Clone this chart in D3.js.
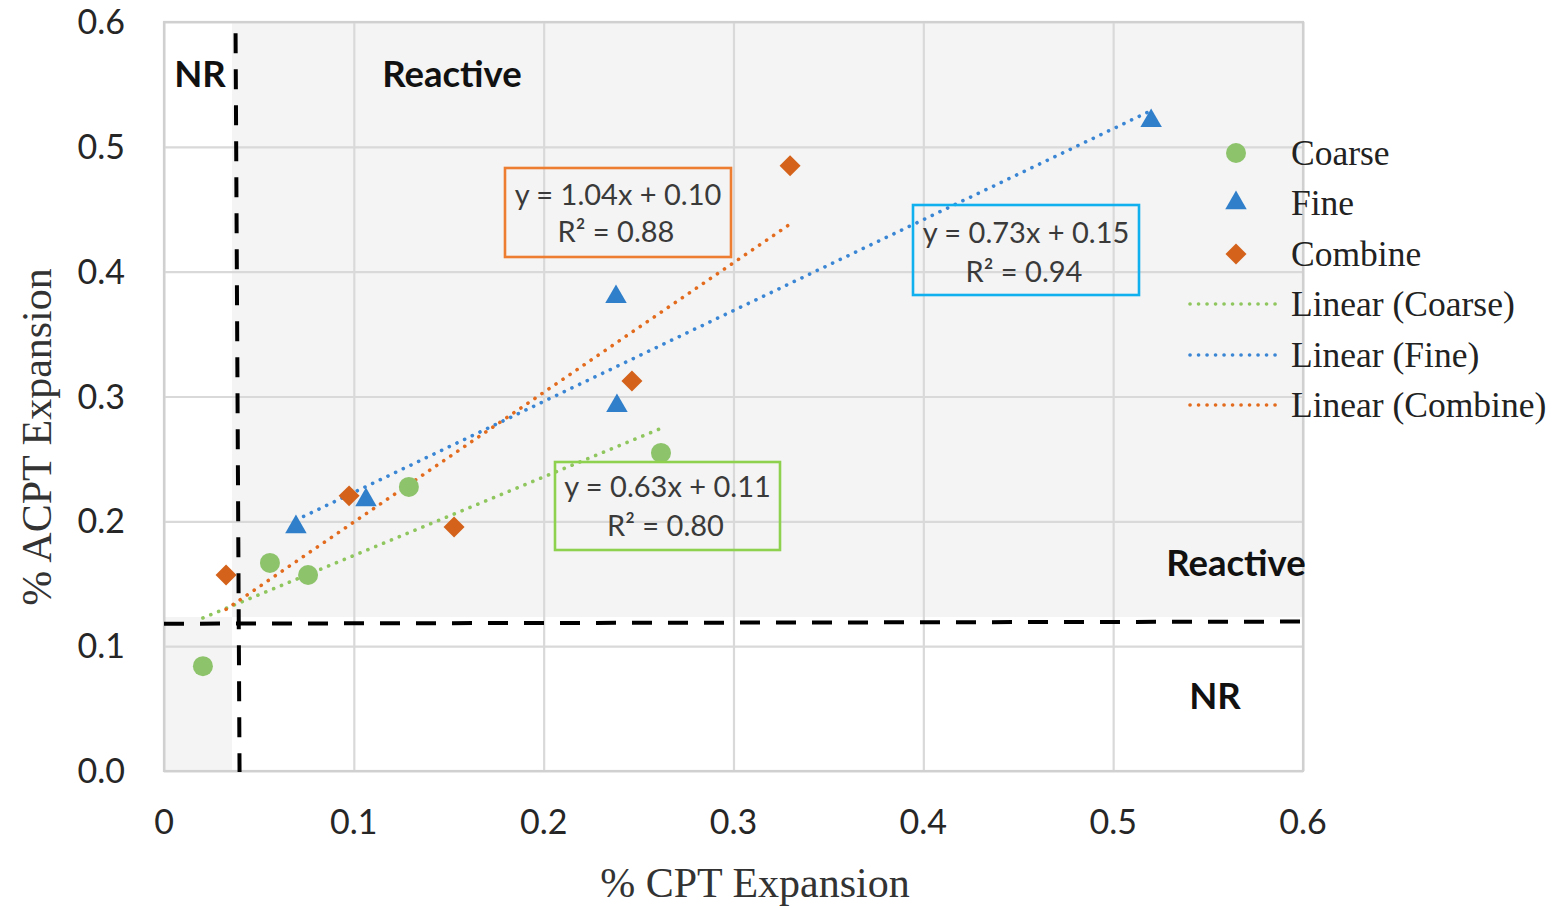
<!DOCTYPE html>
<html lang="en">
<head>
  <meta charset="UTF-8">
  <title>ACPT vs CPT Expansion</title>
  <script src="https://cdnjs.cloudflare.com/ajax/libs/d3/7.8.5/d3.min.js"></script>
  <style>
    body { margin: 0; background: #fff; }
    svg { display: block; }
  </style>
</head>
<body>
  <svg id="chart" width="1554" height="907"></svg>
  <script>
    // values
    const coarseX = [0.0205, 0.0558, 0.0759, 0.129, 0.2618];
    const coarseY = [0.084, 0.1667, 0.157, 0.2276, 0.2548];
    const fineX = [0.0695, 0.1064, 0.2381, 0.2386, 0.52];
    const fineY = [0.1955, 0.2171, 0.3798, 0.2925, 0.5208];
    const combineX = [0.0327, 0.0975, 0.1528, 0.2465, 0.3298];
    const combineY = [0.157, 0.2204, 0.1955, 0.3125, 0.4848];

    const xTicks = [0, 0.1, 0.2, 0.3, 0.4, 0.5, 0.6];
    const yTicks = [0, 0.1, 0.2, 0.3, 0.4, 0.5, 0.6];
    const xTickLabels = ["0", "0.1", "0.2", "0.3", "0.4", "0.5", "0.6"];
    const yTickLabels = ["0.0", "0.1", "0.2", "0.3", "0.4", "0.5", "0.6"];

    // NR / Reactive limits
    const limitX = [0.0377, 0.0398];   // top, bottom
    const limitY = [0.118, 0.1197];    // left, right
    const shadeX = 0.0358;
    const shadeY = 0.1234;

    const equations = [
      ["y = 1.04x + 0.10", "R² = 0.88"],
      ["y = 0.73x + 0.15", "R² = 0.94"],
      ["y = 0.63x + 0.11", "R² = 0.80"]
    ];
    const legendNames = ["Coarse", "Fine", "Combine", "Linear (Coarse)", "Linear (Fine)", "Linear (Combine)"];

    const colors = { coarse: "#8dc36b", fine: "#2f7fcb", combine: "#d4621a" };
    const lineColors = { coarse: "#8fc65e", fine: "#3a86d4", combine: "#e26b1e" };

    const svg = d3.select("#chart");
    const margin = { left: 164, top: 22, right: 251, bottom: 136 };
    const W = 1554, H = 907;

    const x = d3.scaleLinear().domain([0, 0.6]).range([margin.left, W - margin.right]);
    const y = d3.scaleLinear().domain([0, 0.6]).range([H - margin.bottom, margin.top]);

    // shaded regions
    svg.append("rect")
      .attr("x", x(shadeX)).attr("y", y(0.6))
      .attr("width", x(0.6) - x(shadeX)).attr("height", y(shadeY) - y(0.6))
      .attr("fill", "#f4f4f4");
    svg.append("rect")
      .attr("x", x(0)).attr("y", y(shadeY))
      .attr("width", x(shadeX) - x(0)).attr("height", y(0) - y(shadeY))
      .attr("fill", "#f4f4f4");

    // grid
    svg.append("g")
      .attr("transform", `translate(0,${y(0)})`)
      .call(d3.axisBottom(x).tickValues(xTicks).tickSize(-(y(0) - y(0.6))).tickFormat(""))
      .call(g => g.select(".domain").remove())
      .call(g => g.selectAll("line").attr("stroke", "#d9d9d9").attr("stroke-width", 2.2));
    svg.append("g")
      .attr("transform", `translate(${x(0)},0)`)
      .call(d3.axisLeft(y).tickValues(yTicks).tickSize(-(x(0.6) - x(0))).tickFormat(""))
      .call(g => g.select(".domain").remove())
      .call(g => g.selectAll("line").attr("stroke", "#d9d9d9").attr("stroke-width", 2.2));

    // frame
    svg.append("rect")
      .attr("x", x(0)).attr("y", y(0.6))
      .attr("width", x(0.6) - x(0)).attr("height", y(0) - y(0.6))
      .attr("fill", "none").attr("stroke", "#d0d0d0").attr("stroke-width", 2.2);

    // tick labels
    svg.append("g").selectAll("text")
      .data(xTicks)
      .join("text")
      .attr("x", d => x(d))
      .attr("y", y(0) + 63)
      .attr("text-anchor", "middle")
      .attr("font-family", "Lato, sans-serif")
      .attr("font-size", 34)
      .attr("fill", "#262626")
      .text((d, i) => xTickLabels[i]);
    svg.append("g").selectAll("text")
      .data(yTicks)
      .join("text")
      .attr("x", x(0) - 39)
      .attr("y", d => y(d) + 12)
      .attr("text-anchor", "end")
      .attr("font-family", "Lato, sans-serif")
      .attr("font-size", 34)
      .attr("fill", "#262626")
      .text((d, i) => yTickLabels[i]);

    // axis titles
    svg.append("text")
      .attr("x", 755)
      .attr("y", 897)
      .attr("text-anchor", "middle")
      .attr("font-family", "'Liberation Serif', 'Times New Roman', serif")
      .attr("font-size", 42)
      .attr("fill", "#333")
      .text("% CPT Expansion");
    svg.append("text")
      .attr("transform", `translate(51,437) rotate(-90)`)
      .attr("text-anchor", "middle")
      .attr("font-family", "'Liberation Serif', 'Times New Roman', serif")
      .attr("font-size", 42)
      .attr("fill", "#333")
      .text("% ACPT Expansion");

    // limit lines
    svg.append("line")
      .attr("x1", x(limitX[0])).attr("y1", y(0.591))
      .attr("x2", x(limitX[1])).attr("y2", y(0) + 1)
      .attr("stroke", "#000").attr("stroke-width", 4).attr("stroke-dasharray", "20,16");
    svg.append("line")
      .attr("x1", x(0)).attr("y1", y(limitY[0]))
      .attr("x2", x(0.6)).attr("y2", y(limitY[1]))
      .attr("stroke", "#000").attr("stroke-width", 4).attr("stroke-dasharray", "20,16");

    // region labels
    const regionLabels = [
      { t: "NR", px: 200, py: 87 },
      { t: "Reactive", px: 452, py: 87 },
      { t: "Reactive", px: 1236, py: 576 },
      { t: "NR", px: 1215, py: 709 }
    ];
    svg.append("g").selectAll("text")
      .data(regionLabels)
      .join("text")
      .attr("x", d => d.px).attr("y", d => d.py)
      .attr("text-anchor", "middle")
      .attr("font-family", "Lato, sans-serif")
      .attr("font-weight", "bold")
      .attr("font-size", 36.5)
      .attr("fill", "#111")
      .text(d => d.t);

    // least squares trend line
    function fit(xs, ys) {
      const mx = d3.mean(xs), my = d3.mean(ys);
      const sxy = d3.sum(xs, (v, i) => (v - mx) * (ys[i] - my));
      const sxx = d3.sum(xs, v => (v - mx) * (v - mx));
      const b = sxy / sxx, a = my - b * mx;
      const x0 = d3.min(xs), x1 = d3.max(xs);
      return [[x0, a + b * x0], [x1, a + b * x1]];
    }
    const line = d3.line().x(d => x(d[0])).y(d => y(d[1]));
    const trends = [
      { pts: fit(coarseX, coarseY), c: lineColors.coarse },
      { pts: fit(fineX, fineY), c: lineColors.fine },
      { pts: fit(combineX, combineY), c: lineColors.combine }
    ];
    svg.append("g").selectAll("path")
      .data(trends)
      .join("path")
      .attr("d", d => line(d.pts))
      .attr("fill", "none")
      .attr("stroke", d => d.c)
      .attr("stroke-width", 3.6)
      .attr("stroke-linecap", "round")
      .attr("stroke-dasharray", "0.1,8.4");

    // markers
    const tri = d3.symbol().type(d3.symbolTriangle).size(200);
    const sq = d3.symbol().type(d3.symbolSquare).size(220);

    svg.append("g").selectAll("circle")
      .data(coarseX)
      .join("circle")
      .attr("cx", d => x(d))
      .attr("cy", (d, i) => y(coarseY[i]))
      .attr("r", 10)
      .attr("fill", colors.coarse);
    svg.append("g").selectAll("path")
      .data(fineX)
      .join("path")
      .attr("d", tri)
      .attr("transform", (d, i) => `translate(${x(d)},${y(fineY[i])})`)
      .attr("fill", colors.fine);
    svg.append("g").selectAll("path")
      .data(combineX)
      .join("path")
      .attr("d", sq)
      .attr("transform", (d, i) => `translate(${x(d)},${y(combineY[i])}) rotate(45)`)
      .attr("fill", colors.combine);

    // equation boxes
    const boxes = [
      { x0: 505, y0: 168, x1: 731, y1: 257, c: "#ed7d31", eq: equations[0], b1: 205, b2: 242 },
      { x0: 913, y0: 205, x1: 1139, y1: 295, c: "#10b0ee", eq: equations[1], b1: 243, b2: 282 },
      { x0: 555, y0: 462, x1: 780, y1: 550, c: "#8ed14f", eq: equations[2], b1: 497, b2: 536 }
    ];
    const bg = svg.append("g").selectAll("g")
      .data(boxes)
      .join("g");
    bg.append("rect")
      .attr("x", d => d.x0).attr("y", d => d.y0)
      .attr("width", d => d.x1 - d.x0).attr("height", d => d.y1 - d.y0)
      .attr("fill", "none").attr("stroke", d => d.c).attr("stroke-width", 2.6);
    bg.append("text")
      .attr("x", d => (d.x0 + d.x1) / 2).attr("y", d => d.b1)
      .attr("text-anchor", "middle")
      .attr("font-family", "Lato, sans-serif").attr("font-size", 29).attr("fill", "#3a3a3a")
      .text(d => d.eq[0]);
    bg.append("text")
      .attr("x", d => (d.x0 + d.x1) / 2 - 2).attr("y", d => d.b2)
      .attr("text-anchor", "middle")
      .attr("font-family", "Lato, sans-serif").attr("font-size", 29).attr("fill", "#3a3a3a")
      .text(d => d.eq[1]);

    // legend
    const legY = [153, 203, 254, 304, 355, 405];
    const leg = svg.append("g");
    leg.append("circle").attr("cx", 1236).attr("cy", legY[0]).attr("r", 10).attr("fill", colors.coarse);
    leg.append("path").attr("d", tri).attr("transform", `translate(1236,${legY[1]})`).attr("fill", colors.fine);
    leg.append("path").attr("d", sq).attr("transform", `translate(1236,${legY[2]}) rotate(45)`).attr("fill", colors.combine);
    [lineColors.coarse, lineColors.fine, lineColors.combine].forEach((c, i) => {
      leg.append("line")
        .attr("x1", 1190).attr("x2", 1277)
        .attr("y1", legY[i + 3]).attr("y2", legY[i + 3])
        .attr("stroke", c).attr("stroke-width", 3.6)
        .attr("stroke-linecap", "round").attr("stroke-dasharray", "0.1,8.4");
    });
    leg.selectAll("text")
      .data(legendNames)
      .join("text")
      .attr("x", 1291)
      .attr("y", (d, i) => legY[i] + 12)
      .attr("font-family", "'Liberation Serif', 'Times New Roman', serif")
      .attr("font-size", 35.5)
      .attr("fill", "#222")
      .text(d => d);
  </script>
</body>
</html>
